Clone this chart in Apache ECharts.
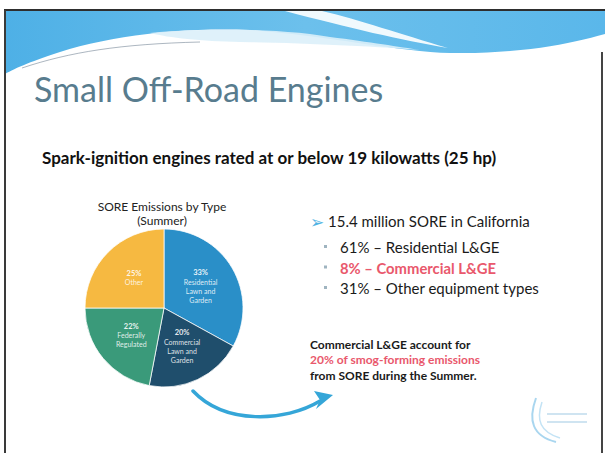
<!DOCTYPE html>
<html>
<head>
<meta charset="utf-8">
<script src="https://cdn.jsdelivr.net/npm/echarts@6/dist/echarts.min.js"></script>
<style>
  html, body { margin: 0; padding: 0; background: #fff; }
  #chart { width: 605px; height: 453px; }
</style>
</head>
<body>
<div id="chart"></div>
<script>
// slice data (clockwise from 12 o'clock)
const categories = ['Residential Lawn and Garden', 'Commercial Lawn and Garden', 'Federally Regulated', 'Other']
const shares = [33, 20, 22, 25]
const sliceNames = ['Residential\nLawn and\nGarden', 'Commercial\nLawn and\nGarden', 'Federally\nRegulated', 'Other']
const sliceColors = ['#2a8fc8', '#1f4e6c', '#3a9a7a', '#f6b941']

// slide texts
const slideTitle = 'Small Off-Road Engines'
const slideSubtitle = 'Spark-ignition engines rated at or below 19 kilowatts (25 hp)'
const pieTitle = ['SORE Emissions by Type', '(Summer)']
const headline = '15.4 million SORE in California'
const bulletLines = ['61% \u2013 Residential L&GE', '8% \u2013 Commercial L&GE', '31% \u2013 Other equipment types']
const noteLines = ['Commercial L&GE account for', '20% of smog-forming emissions', 'from SORE during the Summer.']

const FONT = 'Lato, "Open Sans", sans-serif'
const PINK = '#e9586c'

function txt(x, y, text, font, fill, align) {
  return {
    type: 'text', x: x, y: y, z: 10,
    style: {
      text: text, font: font, fill: fill,
      textAlign: align || 'left', textVerticalAlign: 'middle',
      align: align || 'left', verticalAlign: 'middle'
    }
  }
}

// outline of the decorative wave: straight points and cubic segments
function outline(start, segs) {
  const pts = [start]
  let cur = start
  segs.forEach(s => {
    if (s.length === 1) { pts.push(s[0]); cur = s[0]; return }
    const [c1, c2, end] = s
    for (let k = 1; k <= 16; k++) {
      const t = k / 16, u = 1 - t
      pts.push([
        u * u * u * cur[0] + 3 * u * u * t * c1[0] + 3 * u * t * t * c2[0] + t * t * t * end[0],
        u * u * u * cur[1] + 3 * u * u * t * c1[1] + 3 * u * t * t * c2[1] + t * t * t * end[1]
      ])
    }
    cur = end
  })
  return pts
}

const chart = echarts.init(document.getElementById('chart'), null, { renderer: 'svg' })

const graphics = [
  // top wave
  {
    type: 'polygon', z: 1,
    shape: {
      points: outline([5, 11], [
        [[605, 11]], [[605, 34]],
        [[570, 44], [520, 54], [450, 53]],
        [[400, 52], [330, 36], [250, 30]],
        [[180, 27], [110, 36], [60, 52]],
        [[35, 60], [15, 68], [5, 74]]
      ])
    },
    style: {
      fill: new echarts.graphic.LinearGradient(0, 0, 1, 0, [
        { offset: 0, color: '#4eb0e6' }, { offset: 0.5, color: '#6cc0ec' }, { offset: 1, color: '#5ab7ea' }
      ])
    }
  },
  {
    type: 'polygon', z: 2,
    shape: {
      points: outline([285, 11], [
        [[322, 11]],
        [[360, 20], [400, 34], [448, 48]],
        [[400, 40], [350, 28], [285, 11]]
      ])
    },
    style: { fill: 'rgba(255,255,255,0.9)' }
  },
  {
    type: 'polygon', z: 2,
    shape: {
      points: outline([150, 33], [
        [[200, 28], [280, 28], [330, 37]],
        [[370, 42], [400, 47], [420, 50]],
        [[370, 46], [300, 43], [240, 42]],
        [[200, 41], [170, 38], [150, 33]]
      ])
    },
    style: { fill: 'rgba(220,240,250,0.9)' }
  },
  {
    type: 'bezierCurve', z: 3,
    shape: { x1: 22, y1: 68, cpx1: 70, cpy1: 52, cpx2: 120, cpy2: 44, x2: 200, y2: 42 },
    style: { stroke: 'rgba(90,110,130,0.5)', lineWidth: 1, fill: null }
  },
  // slide frame
  { type: 'line', z: 5, shape: { x1: 4, y1: 10, x2: 605, y2: 10 }, style: { stroke: '#2e2e2e', lineWidth: 2 } },
  { type: 'line', z: 5, shape: { x1: 5, y1: 10, x2: 5, y2: 453 }, style: { stroke: '#3a3a3a', lineWidth: 2 } },
  { type: 'line', z: 5, shape: { x1: 602, y1: 52, x2: 602, y2: 453 }, style: { stroke: '#444', lineWidth: 2 } },
  // titles
  txt(34, 88, slideTitle, '34px ' + FONT, '#587c8e'),
  txt(42, 157, slideSubtitle, 'bold 17px ' + FONT, '#111'),
  txt(162, 206, pieTitle[0], '12px ' + FONT, '#222', 'center'),
  txt(162, 220, pieTitle[1], '12px ' + FONT, '#222', 'center'),
  // bullet list
  txt(310, 221, '\u27A2', '17px ' + FONT, '#4fb3e3'),
  txt(328, 221, headline, '15px ' + FONT, '#1a1a1a'),
  // curved arrow
  {
    type: 'bezierCurve', z: 6,
    shape: { x1: 193, y1: 391, cpx1: 225, cpy1: 425, cpx2: 285, cpy2: 422, x2: 320, y2: 401 },
    style: { stroke: '#35a6d8', lineWidth: 3.5, fill: null, lineCap: 'round' }
  },
  {
    type: 'polygon', z: 6,
    shape: { points: [[333, 395], [314, 391], [320, 400], [316, 409]] },
    style: { fill: '#35a6d8' }
  },
  // faint logo
  {
    type: 'bezierCurve', z: 3,
    shape: { x1: 536, y1: 398, cpx1: 528, cpy1: 420, cpx2: 532, cpy2: 436, x2: 556, y2: 442 },
    style: { stroke: '#a9d6ef', lineWidth: 2, fill: null }
  },
  {
    type: 'bezierCurve', z: 3,
    shape: { x1: 542, y1: 402, cpx1: 536, cpy1: 420, cpx2: 540, cpy2: 432, x2: 560, y2: 438 },
    style: { stroke: '#c3e3f5', lineWidth: 1.5, fill: null }
  },
  { type: 'line', z: 3, shape: { x1: 547, y1: 414, x2: 587, y2: 414 }, style: { stroke: '#cfe4f1', lineWidth: 2 } },
  { type: 'line', z: 3, shape: { x1: 547, y1: 422, x2: 587, y2: 422 }, style: { stroke: '#cfe4f1', lineWidth: 2 } }
]

bulletLines.forEach((line, i) => {
  const y = 247 + i * 20.5
  graphics.push({ type: 'rect', z: 10, shape: { x: 324, y: y - 2, width: 3, height: 3 }, style: { fill: '#9fb4c0' } })
  graphics.push(i === 1
    ? txt(340, y, line, 'bold 14.8px ' + FONT, PINK)
    : txt(340, y, line, '15px ' + FONT, '#1a1a1a'))
})

noteLines.forEach((line, i) => {
  graphics.push(txt(310, 344 + i * 15.5, line, 'bold 12px ' + FONT, i === 1 ? PINK : '#1a1a1a'))
})

chart.setOption({
  backgroundColor: '#fff',
  animation: false,
  graphic: graphics,
  series: [{
    type: 'pie',
    name: pieTitle[0],
    center: [164, 308],
    radius: [0, 79],
    startAngle: 90,
    clockwise: true,
    z: 8,
    itemStyle: { borderColor: 'rgba(255,255,255,0.75)', borderWidth: 1 },
    label: {
      position: 'inside',
      color: 'rgba(255,255,255,0.85)',
      fontFamily: FONT,
      fontSize: 7,
      lineHeight: 9,
      formatter: p => '{v|' + p.value + '%}\n' + sliceNames[p.dataIndex],
      rich: { v: { fontWeight: 'bold', fontSize: 7.5, color: 'rgba(255,255,255,0.9)', fontFamily: FONT } }
    },
    labelLine: { show: false },
    emphasis: { disabled: true },
    data: categories.map((name, i) => ({
      name: name,
      value: shares[i],
      itemStyle: { color: sliceColors[i] }
    }))
  }]
})
</script>
</body>
</html>
